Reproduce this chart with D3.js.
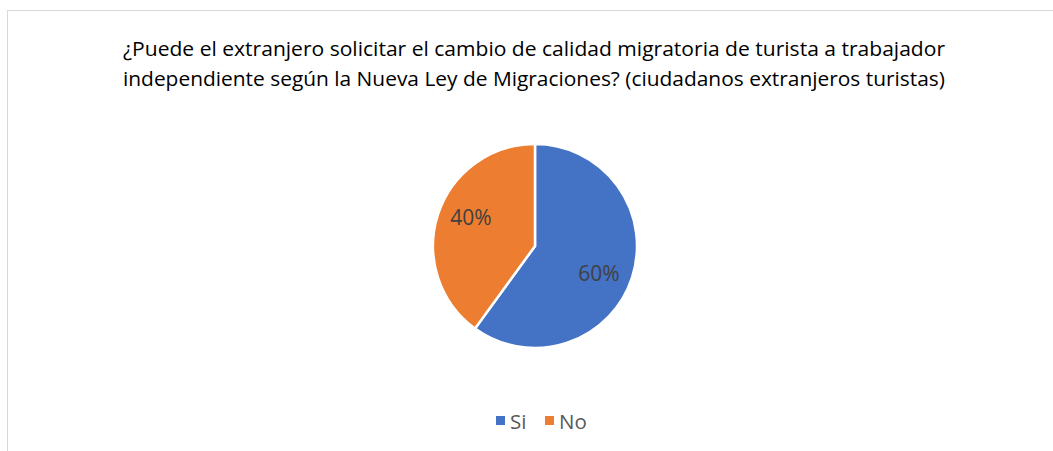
<!DOCTYPE html>
<html><head><meta charset="utf-8">
<script src="https://cdn.jsdelivr.net/npm/d3@7"></script>
<style>body{margin:0;background:#fff}svg{display:block}</style>
</head><body>
<script>
const titleLines = ["¿Puede el extranjero solicitar el cambio de calidad migratoria de turista a trabajador",
  "independiente según la Nueva Ley de Migraciones? (ciudadanos extranjeros turistas)"];
const categories = ["Si", "No"];
const values = [60, 40];
const colors = ["#4472C4", "#ED7D31"];

const W = 1053, H = 451;
const svg = d3.select("body").append("svg").attr("width", W).attr("height", H);
svg.append("rect").attr("x", 7.5).attr("y", 10.5).attr("width", 1060).attr("height", 460)
  .attr("fill", "#fff").attr("stroke", "#d9d9d9").attr("stroke-width", 1);

const font = "'Open Sans', 'Noto Sans', sans-serif";
svg.selectAll("text.title").data(titleLines).join("text").attr("class", "title")
  .attr("x", 534).attr("y", (d, i) => 56 + i * 30)
  .attr("text-anchor", "middle").attr("font-family", font).attr("font-size", 19.5)
  .attr("fill", "#000")
  .attr("textLength", 822).attr("lengthAdjust", "spacingAndGlyphs")
  .text(d => d);

const cx = 535, cy = 246, r = 102;
const pie = d3.pie().sort(null).value(d => d)(values);
const arc = d3.arc().innerRadius(0).outerRadius(r);
const g = svg.append("g").attr("transform", `translate(${cx},${cy})`);
g.selectAll("path").data(pie).join("path")
  .attr("d", arc).attr("fill", (d, i) => colors[i])
  .attr("stroke", "#fff").attr("stroke-width", 2.5).attr("stroke-linejoin", "miter");

const total = d3.sum(values);
const labelArc = d3.arc().innerRadius(r * 0.66).outerRadius(r * 0.66);
g.selectAll("text").data(pie).join("text")
  .attr("transform", d => { const [x, y] = labelArc.centroid(d); return `translate(${x},${y * 1.35})`; })
  .attr("text-anchor", "middle").attr("dy", "0.35em")
  .attr("font-family", font).attr("font-size", 21).attr("fill", "#404040")
  .text(d => Math.round(d.data / total * 100) + "%");

// legend
const lg = svg.append("g");
const legX = [496, 545];
categories.forEach((c, i) => {
  lg.append("rect").attr("x", legX[i]).attr("y", 416).attr("width", 9).attr("height", 9).attr("fill", colors[i]);
  lg.append("text").attr("x", legX[i] + 14).attr("y", 428.5)
    .attr("font-family", font).attr("font-size", 20.5).attr("fill", "#595959").text(c);
});
</script>
</body></html>
